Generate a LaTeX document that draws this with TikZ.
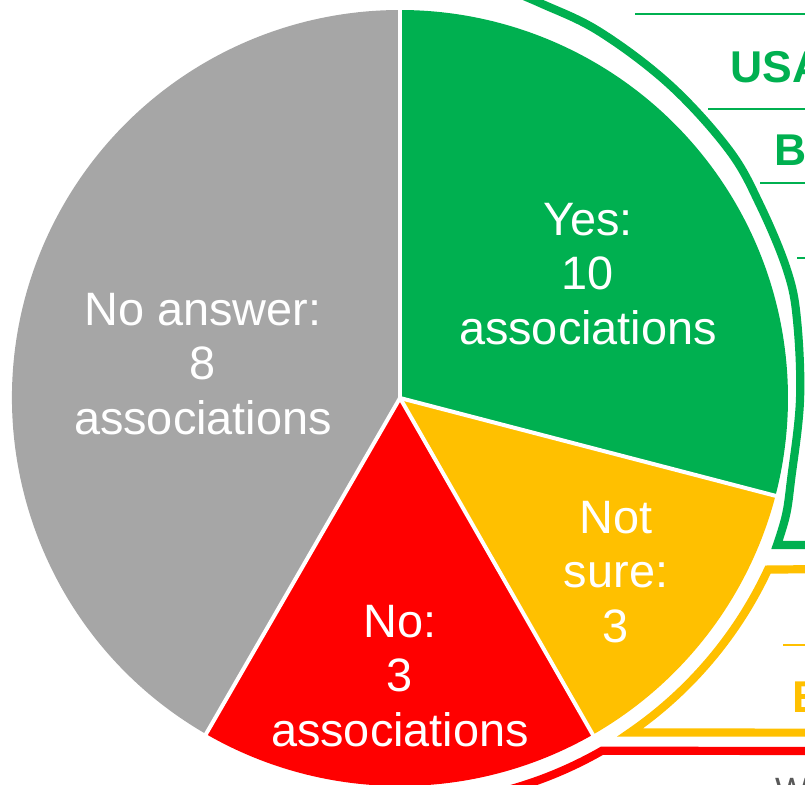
\documentclass[tikz,border=0pt]{standalone}
\usepackage{fontspec}
\setmainfont{Liberation Sans}
\definecolor{yesgreen}{HTML}{00B050}
\definecolor{unsureyellow}{HTML}{FFC000}
\definecolor{nored}{HTML}{FF0000}
\definecolor{nogray}{HTML}{A6A6A6}
\definecolor{notegray}{HTML}{595959}
\tikzset{
  slicelabel/.style={text=white, align=center, inner sep=0pt, font=\fontsize{40}{46.8}\selectfont},
  tablehead/.style={anchor=base west, inner sep=0pt, font=\fontsize{38}{44}\selectfont\bfseries},
  band/.style={line width=7pt, line join=miter},
  rowline/.style={line width=2.5pt},
  slicegap/.style={white, line width=3.4pt},
}
\begin{document}
\begin{tikzpicture}[x=0.03cm, y=-0.03cm]

    \useasboundingbox (0,0) rectangle (805,785);
    \clip (0,0) rectangle (805,785);

    % callouts behind the pie
    \draw[band, yesgreen] (830,545) -- plot[smooth, tension=0.6] coordinates {(777,545) (786,515) (791,480) (800,400) (797,320) (787,270) (760,205) (729,150) (670,85) (600,32) (540,3) (480,-22)};

    \draw[rowline, yesgreen] (635,14) -- (830,14);
    \draw[rowline, yesgreen] (708,109) -- (830,109);
    \draw[rowline, yesgreen] (760,183) -- (830,183);
    \draw[rowline, yesgreen] (797,258) -- (830,258);
    \draw[rowline, unsureyellow] (783,645) -- (830,645);

    \begin{scope}[shift={(400,398)}, yscale=-1]
        \coordinate (pieCenter) at (0,0);

        \draw[band, unsureyellow] (430,-171) -- (-25:406) arc[start angle=-25, end angle=-55.5, radius=406] -- (430,-334.6);
        \draw[band, nored] (430,-353) -- (-60.2:406.5) arc[start angle=-60.2, end angle=-80, radius=406.5];

        \fill[yesgreen]     (pieCenter) -- (90:388)    arc[start angle=90,    end angle=-14.6, radius=388] -- cycle;
        \fill[unsureyellow] (pieCenter) -- (-14.6:388) arc[start angle=-14.6, end angle=-60.2, radius=388] -- cycle;
        \fill[nored]        (pieCenter) -- (-60.2:388) arc[start angle=-60.2, end angle=-120,  radius=388] -- cycle;
        \fill[nogray]       (pieCenter) -- (-120:388)  arc[start angle=-120,  end angle=-270,  radius=388] -- cycle;

        \foreach \a in {90,-14.6,-60.2,-120} {
            \draw[slicegap] (pieCenter) -- (\a:392);
        }
    \end{scope}

    \node (lblYes)      [slicelabel] at (588,274) {Yes:\\10\\associations};
    \node (lblNoAnswer) [slicelabel] at (203,364) {No answer:\\8\\associations};
    \node (lblNotSure)  [slicelabel] at (616,572) {Not\\sure:\\3};
    \node (lblNo)       [slicelabel] at (400,676) {No:\\3\\associations};

    \node (hdUSA) [tablehead, yesgreen]     at (730,82)  {USA};
    \node (hdB)   [tablehead, yesgreen]     at (774,165) {B};
    \node (hdE)   [tablehead, unsureyellow] at (792,712) {E};
    \node (noteW) [anchor=base west, inner sep=0pt, text=notegray, font=\fontsize{30}{36}\selectfont] at (775,802) {W};

\end{tikzpicture}
\end{document}
